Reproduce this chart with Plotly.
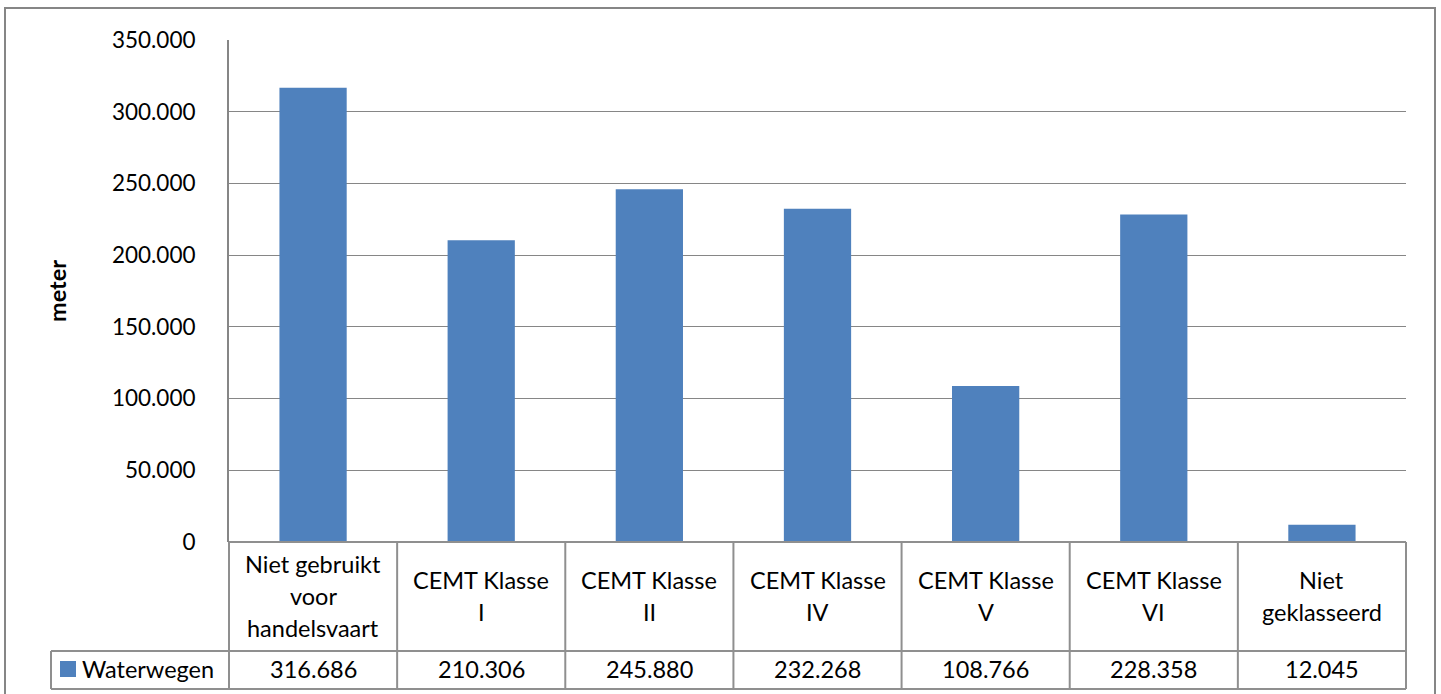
import plotly.graph_objects as go

# Waterway length per CEMT class
categories = [
    "Niet gebruikt\nvoor\nhandelsvaart",
    "CEMT Klasse\nI",
    "CEMT Klasse\nII",
    "CEMT Klasse\nIV",
    "CEMT Klasse\nV",
    "CEMT Klasse\nVI",
    "Niet\ngeklasseerd",
]
values = [316686, 210306, 245880, 232268, 108766, 228358, 12045]
series_name = "Waterwegen"
y_ticks = [0, 50000, 100000, 150000, 200000, 250000, 300000, 350000]

W, H = 1441, 694
ML, MR, MT, MB = 229, 35, 40, 152
PW = W - ML - MR
PH = H - MT - MB

BAR = "#4F81BD"
GRID = "#868686"
TBL = "#8f8f8f"
FONT = "Lato"
FS = 23.5


def py(pix):
    """pixel row -> paper y"""
    return (H - MB - pix) / PH


def px(pix):
    """pixel column -> paper x"""
    return (pix - ML) / PW


def fmt(v):
    return f"{v:,}".replace(",", ".")


xs = list(range(len(categories)))

fig = go.Figure(
    go.Bar(
        x=xs,
        y=values,
        name=series_name,
        marker=dict(color=BAR, line=dict(width=0)),
        width=0.4,
        showlegend=False,
        hoverinfo="skip",
    )
)

shapes = []
annotations = []

# data table grid below the plot
row1_bot = py(651)
row2_bot = py(689)
n = len(categories)
for i in range(n + 1):
    shapes.append(dict(type="line", xref="paper", yref="paper",
                       x0=i / n, x1=i / n, y0=0, y1=row2_bot,
                       line=dict(color=TBL, width=2)))
shapes.append(dict(type="line", xref="paper", yref="paper",
                   x0=0, x1=1, y0=0, y1=0,
                   line=dict(color=TBL, width=2)))
shapes.append(dict(type="line", xref="paper", yref="paper",
                   x0=px(51), x1=1, y0=row1_bot, y1=row1_bot,
                   line=dict(color=TBL, width=2)))
shapes.append(dict(type="line", xref="paper", yref="paper",
                   x0=px(51), x1=1, y0=row2_bot, y1=row2_bot,
                   line=dict(color=TBL, width=2)))
shapes.append(dict(type="line", xref="paper", yref="paper",
                   x0=px(51), x1=px(51), y0=row1_bot, y1=row2_bot,
                   line=dict(color=TBL, width=2)))

# legend key inside the table
shapes.append(dict(type="rect", xref="paper", yref="paper",
                   x0=px(60), x1=px(76), y0=py(661), y1=py(677),
                   fillcolor=BAR, line=dict(width=0)))
annotations.append(dict(text=series_name, xref="paper", yref="paper",
                        x=px(80), y=py(669), xanchor="left", yanchor="middle",
                        showarrow=False, font=dict(family=FONT, size=FS, color="#000")))

# outer chart border
shapes.append(dict(type="rect", xref="paper", yref="paper",
                   x0=px(5), x1=px(1435), y0=py(8), y1=py(720),
                   line=dict(color=GRID, width=2), fillcolor="rgba(0,0,0,0)"))

# category labels and values
cell_mid = py(596)
line_gap = 32
for i, (cat, v) in enumerate(zip(categories, values)):
    lines = cat.split("\n")
    k = len(lines)
    for j, ln in enumerate(lines):
        off = ((k - 1) / 2 - j) * line_gap
        annotations.append(dict(text=ln, xref="x", yref="paper", x=i, y=cell_mid,
                                yshift=off, xanchor="center", yanchor="middle",
                                showarrow=False,
                                font=dict(family=FONT, size=FS, color="#000")))
    annotations.append(dict(text=fmt(v), xref="x", yref="paper", x=i, y=py(669),
                            xanchor="center", yanchor="middle", showarrow=False,
                            font=dict(family=FONT, size=FS, color="#000")))

# y axis title
annotations.append(dict(text="<b>meter</b>", xref="paper", yref="paper",
                        x=px(57), y=0.5, textangle=-90, xanchor="center",
                        yanchor="middle", showarrow=False,
                        font=dict(family=FONT, size=FS, color="#000")))

fig.update_layout(
    width=W, height=H,
    margin=dict(l=ML, r=MR, t=MT, b=MB, pad=0),
    paper_bgcolor="white", plot_bgcolor="white",
    separators=",.",
    bargap=0.6,
    shapes=shapes,
    annotations=annotations,
    font=dict(family=FONT, size=FS, color="#000"),
    xaxis=dict(range=[-0.5, n - 0.5], showticklabels=False, showgrid=False,
               zeroline=False, showline=False, ticks=""),
    yaxis=dict(range=[0, 350000], tickvals=y_ticks, tickformat=",d",
               showgrid=True, gridcolor=GRID, gridwidth=1,
               zeroline=False, showline=True, linecolor=GRID, linewidth=2,
               ticks="", ticklabelstandoff=27,
               tickfont=dict(family=FONT, size=FS - 1, color="#000")),
)

fig.write_html("out.html")
